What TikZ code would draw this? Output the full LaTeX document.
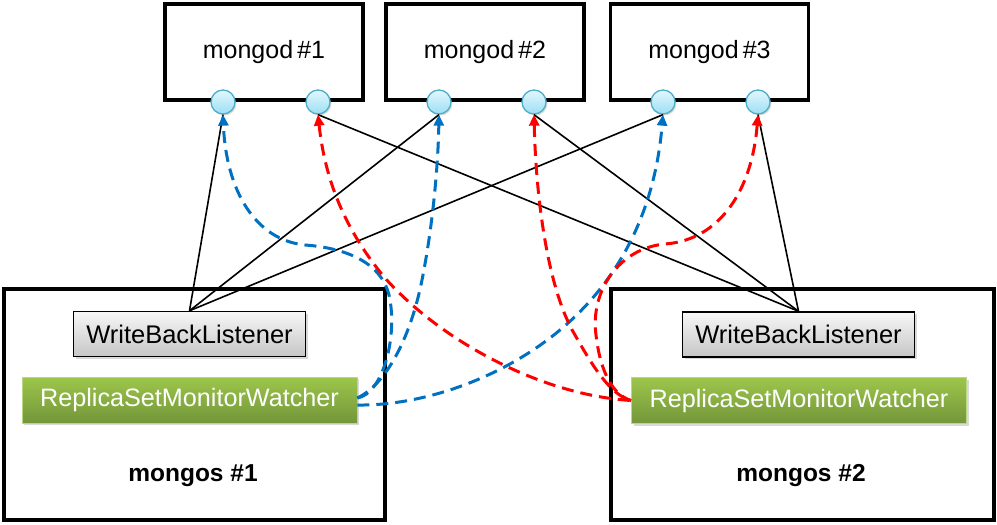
\documentclass[tikz,border=0pt]{standalone}
\usepackage{fontspec}
\setmainfont{Liberation Sans}
\usetikzlibrary{arrows.meta,shadows}
\definecolor{bl}{HTML}{0070C0}
\definecolor{rd}{HTML}{FF0000}
\definecolor{cyline}{HTML}{4FAEC8}
\definecolor{cytop}{HTML}{E2F7FD}
\definecolor{cybot}{HTML}{9CDFF3}
\definecolor{grtop}{HTML}{9DC64B}
\definecolor{grbot}{HTML}{73963A}
\definecolor{gytop}{HTML}{F7F7F7}
\definecolor{gybot}{HTML}{C6C6C6}
\begin{document}
\begin{tikzpicture}[x=1pt,y=-1pt,
  bigbox/.style={draw,line width=3.8pt,inner sep=0pt,minimum height=#1},
  port/.style={circle,draw=cyline,line width=1.3pt,top color=cytop,bottom color=cybot,minimum size=24pt,inner sep=0pt,
     drop shadow={shadow xshift=1.5pt,shadow yshift=-1.5pt,opacity=0.3}},
  wbl/.style={draw,line width=1.5pt,top color=gytop,bottom color=gybot,minimum width=232pt,minimum height=45pt,inner sep=0pt,
     font=\fontsize{25.5}{28}\selectfont,drop shadow={shadow xshift=2pt,shadow yshift=-2pt,opacity=0.3}},
  rsm/.style={draw=grtop!70!white,line width=0.6pt,top color=grtop,bottom color=grbot,minimum width=335pt,minimum height=46pt,inner sep=0pt,
     text=white,font=\fontsize{25.2}{28}\selectfont,drop shadow={shadow xshift=2pt,shadow yshift=-2pt,opacity=0.3}},
  mtext/.style={font=\fontsize{25}{28}\selectfont},
  stext/.style={font=\fontsize{24.5}{28}\selectfont\bfseries},
  wire/.style={line width=1.6pt},
  bdash/.style={bl,line width=3pt,dash pattern=on 12pt off 7pt,-{Triangle[length=11pt,width=10pt]}},
  rarr/.style={rd,line width=3pt,dash pattern=on 12pt off 7pt,{Triangle[length=11pt,width=10pt]}-}
]
\useasboundingbox (0,0) rectangle (997,525);

% mongod boxes
\node[bigbox=96pt,minimum width=198pt,mtext] (m1) at (264,52) {mongod\,\#1};
\node[bigbox=96pt,minimum width=198pt,mtext] (m2) at (485,52) {mongod\,\#2};
\node[bigbox=96pt,minimum width=198pt,mtext] (m3) at (709.5,52) {mongod\,\#3};

% ports
\node[port] (c11) at (223,102) {};
\node[port] (c12) at (318,102) {};
\node[port] (c21) at (439,102) {};
\node[port] (c22) at (534,102) {};
\node[port] (c31) at (663,102) {};
\node[port] (c32) at (758,102) {};

% mongos boxes
\node[bigbox=231pt,minimum width=381pt] (s1) at (194.5,404.5) {};
\node[bigbox=231pt,minimum width=383pt] (s2) at (802.5,404.5) {};

\node[wbl] (w1) at (189.5,334) {WriteBackListener};
\node[wbl] (w2) at (798.5,334.5) {WriteBackListener};

\node[rsm] (r1) at (189.5,400) {ReplicaSetMonitorWatcher};
\node[rsm] (r2) at (799,400.5) {ReplicaSetMonitorWatcher};

\node[stext] (l1) at (193,476) {mongos \#1};
\node[stext] (l2) at (801,476) {mongos \#2};

% black wires
\draw[wire] (w1.north) -- (c11.south);
\draw[wire] (w1.north) -- (c21.south);
\draw[wire] (w1.north) -- (c31.south);
\draw[wire] (w2.north) -- (c12.south);
\draw[wire] (w2.north) -- (c22.south);
\draw[wire] (w2.north) -- (c32.south);

% blue dashed
\draw[bdash] ([yshift=2pt]r1.east) .. controls (382,394) and (397,340) .. (390,300)
   .. controls (384,262) and (345,248) .. (305,245)
   .. controls (255,240) and (226,190) .. (c11.south);
\draw[bdash] ([yshift=2pt]r1.east) .. controls (385,385) and (410,340) .. (422,280)
   .. controls (432,230) and (438,170) .. (c21.south);
\draw[bdash] ([yshift=-5pt]r1.east) .. controls (420,406) and (500,380) .. (560,330)
   .. controls (620,280) and (655,210) .. (c31.south);

% red dashed
\draw[rarr] (c12.south) .. controls (325,180) and (345,230) .. (385,278)
   .. controls (440,340) and (540,395) .. (r2.west);
\draw[rarr] (c22.south) .. controls (536,200) and (548,290) .. (575,335)
   .. controls (592,365) and (610,395) .. (r2.west);
\draw[rarr] (c32.south) .. controls (752,190) and (720,240) .. (665,244)
   .. controls (620,248) and (590,290) .. (596,335)
   .. controls (600,370) and (612,395) .. (r2.west);
\end{tikzpicture}
\end{document}
